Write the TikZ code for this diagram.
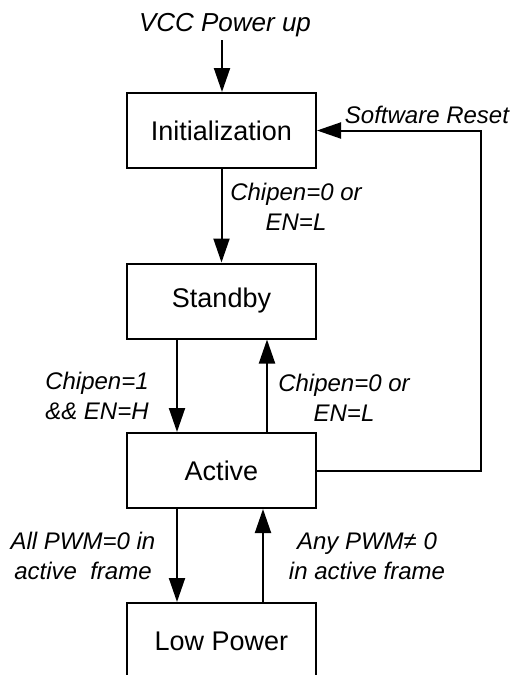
\documentclass[tikz,border=0pt]{standalone}
\usepackage{fontspec}
\setmainfont{Liberation Sans}
\usetikzlibrary{arrows.meta}
\begin{document}
\begin{tikzpicture}[x=1pt,y=-1pt,
  state/.style={draw,line width=2pt,minimum width=189pt,minimum height=75pt,inner sep=0pt,font=\fontsize{27}{30}\selectfont},
  lbl/.style={font=\fontsize{24}{29.5}\selectfont\itshape,align=center,inner sep=0pt},
  arr/.style={line width=2pt,-{Triangle[length=24pt,width=16pt]}}]
\clip (0,0) rectangle (512,675);
\node[state] (init) at (221.5,130.5) {Initialization};
\node[state] (stby) at (221.5,301) {Standby};
\node[state] (act) at (221.5,470.5) {Active};
\node[state,minimum height=76pt] (lp) at (221.5,641) {Low Power};
% power up
\node[lbl,font=\fontsize{26}{30}\selectfont\itshape] (vcc) at (225,25) {VCC Power up};
\coordinate (vccend) at (222,40);
\draw[arr] (vccend) -- (vccend |- init.north);
% init -> standby
\draw[arr] (init.south) -- (stby.north);
\node[lbl] (l1) at (296,207) {Chipen=0 or\\EN=L};
% standby <-> active
\draw[arr] ([xshift=-44.5pt]stby.south) -- ([xshift=-44.5pt]act.north);
\draw[arr] ([xshift=45.5pt]act.north) -- ([xshift=45.5pt]stby.south);
\node[lbl] (l2) at (97,396) {Chipen=1\\\&\& EN=H};
\node[lbl] (l3) at (344,398) {Chipen=0 or\\EN=L};
% active <-> low power
\draw[arr] ([xshift=-44.5pt]act.south) -- ([xshift=-44.5pt]lp.north);
\draw[arr] ([xshift=41.5pt]lp.north) -- ([xshift=41.5pt]act.south);
\node[lbl] (l4) at (83,556) {All PWM=0 in\\active\ \ frame};
\node[lbl] (l5) at (367,556) {Any PWM≠ 0\\in active frame};
% software reset
\coordinate (sr) at (481,130.5);
\draw[arr] (act.east) -| (sr) -- (init.east);
\node[lbl] (l6) at (427,115) {Software Reset};
\end{tikzpicture}
\end{document}
